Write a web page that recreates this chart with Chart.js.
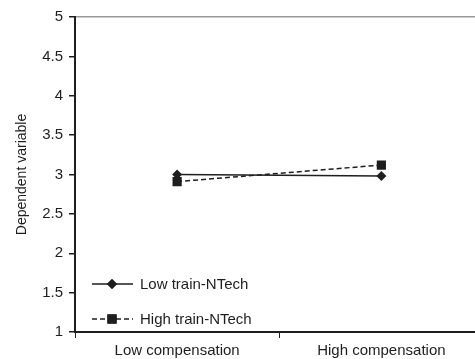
<!DOCTYPE html>
<html>
<head>
<meta charset="utf-8">
<script src="https://cdn.jsdelivr.net/npm/chart.js@4.4.1/dist/chart.umd.min.js"></script>
<style>
  html, body { margin: 0; padding: 0; background: #fff; overflow: hidden; }
</style>
</head>
<body>
<canvas id="chart" width="490" height="359"></canvas>
<script>
const categories = ['Low compensation', 'High compensation'];
const seriesNames = ['Low train-NTech', 'High train-NTech'];
const lowTrain = [3.00, 2.98];
const highTrain = [2.91, 3.12];
const yTicks = [1, 1.5, 2, 2.5, 3, 3.5, 4, 4.5, 5];

const FONT = 'Liberation Sans, Arial, Helvetica, sans-serif';
const INK = '#1e1e1e';

// legend drawn inside the plot, lower left, like the original
const insideLegend = {
    id: 'insideLegend',
    afterDraw(chart) {
        const ctx = chart.ctx;
        const rows = [284, 319];
        chart.data.datasets.forEach((ds, i) => {
            const y = rows[i];
            ctx.save();
            ctx.strokeStyle = ds.borderColor;
            ctx.lineWidth = ds.borderWidth;
            ctx.setLineDash(ds.borderDash || []);
            ctx.beginPath();
            ctx.moveTo(92, y);
            ctx.lineTo(133, y);
            ctx.stroke();
            ctx.setLineDash([]);
            Chart.helpers.drawPoint(ctx, {
                pointStyle: ds.pointStyle,
                radius: ds.pointRadius,
                borderWidth: 0
            }, 112, y);
            ctx.fillStyle = ds.backgroundColor;
            ctx.fill();
            ctx.fillStyle = INK;
            ctx.font = '15px ' + FONT;
            ctx.textBaseline = 'middle';
            ctx.fillText(ds.label, 140, y + 1);
            ctx.restore();
        });
    }
};

new Chart(document.getElementById('chart'), {
    type: 'line',
    data: {
        labels: categories,
        datasets: [{
            label: seriesNames[0],
            data: lowTrain,
            borderColor: INK,
            backgroundColor: INK,
            borderWidth: 1.5,
            pointStyle: 'rectRot',
            pointRadius: 5,
            pointBorderWidth: 0,
            tension: 0
        }, {
            label: seriesNames[1],
            data: highTrain,
            borderColor: INK,
            backgroundColor: INK,
            borderWidth: 1.5,
            borderDash: [5, 3],
            pointStyle: 'rect',
            pointRadius: 6.5,
            pointBorderWidth: 0,
            tension: 0
        }]
    },
    options: {
        responsive: false,
        animation: false,
        layout: { padding: { top: 17, right: 3, left: 0, bottom: 0 } },
        plugins: {
            legend: { display: false },
            tooltip: { enabled: false }
        },
        scales: {
            x: {
                offset: true,
                grid: {
                    offset: true,
                    drawOnChartArea: false,
                    tickLength: 6,
                    tickColor: INK,
                    lineWidth: 1
                },
                border: { color: INK, width: 2 },
                ticks: {
                    color: INK,
                    font: { family: FONT, size: 15 },
                    padding: 4,
                    maxRotation: 0
                },
                afterFit: function(scale) { scale.height = 27; }
            },
            y: {
                min: 1,
                max: 5,
                afterBuildTicks: function(scale) {
                    scale.ticks = yTicks.map(v => ({ value: v }));
                },
                grid: {
                    color: ctx => ctx.tick && ctx.tick.value === 5 ? '#9a9a9a' : 'rgba(0,0,0,0)',
                    tickColor: INK,
                    tickLength: 6,
                    lineWidth: 1.5
                },
                border: { color: INK, width: 2 },
                ticks: {
                    color: INK,
                    font: { family: FONT, size: 15 },
                    padding: 6,
                    callback: v => String(v)
                },
                title: {
                    display: true,
                    text: 'Dependent variable',
                    color: INK,
                    font: { family: FONT, size: 14 },
                    padding: { top: 14, bottom: 0 }
                },
                afterFit: function(scale) { scale.width = 75; }
            }
        }
    },
    plugins: [insideLegend]
});
</script>
</body>
</html>
